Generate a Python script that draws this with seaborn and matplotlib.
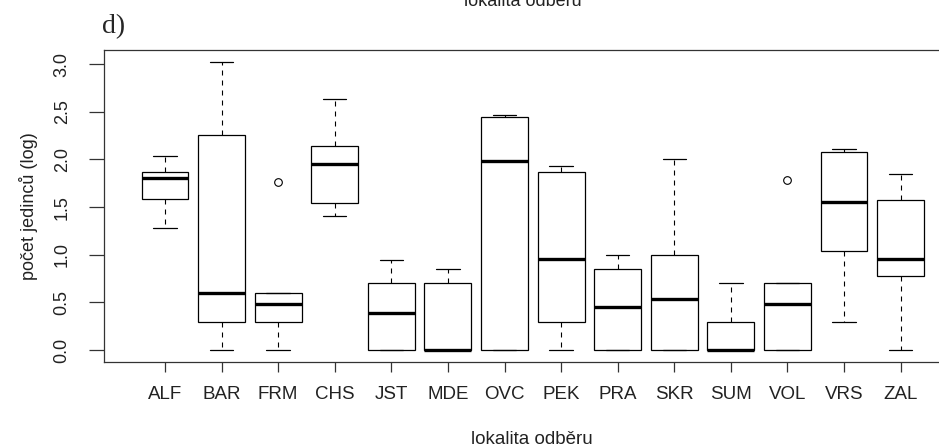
import numpy as np
import pandas as pd
import matplotlib
matplotlib.use("Agg")
import matplotlib.pyplot as plt
import seaborn as sns

# ---- data (log10 counts) ----
categories = ["ALF", "BAR", "FRM", "CHS", "JST", "MDE", "OVC",
              "PEK", "PRA", "SKR", "SUM", "VOL", "VRS", "ZAL"]
whisker_low = [1.28, 0.00, 0.00, 1.41, 0.00, 0.00, 0.00,
               0.00, 0.00, 0.00, 0.00, 0.00, 0.30, 0.00]
q1 =          [1.59, 0.30, 0.30, 1.54, 0.00, 0.00, 0.00,
               0.30, 0.00, 0.00, 0.00, 0.00, 1.04, 0.78]
median =      [1.81, 0.60, 0.48, 1.95, 0.39, 0.00, 1.98,
               0.96, 0.45, 0.54, 0.00, 0.48, 1.55, 0.96]
q3 =          [1.87, 2.26, 0.60, 2.14, 0.70, 0.70, 2.44,
               1.87, 0.85, 1.00, 0.30, 0.70, 2.08, 1.57]
whisker_high = [2.04, 3.02, 0.60, 2.63, 0.95, 0.85, 2.47,
                1.93, 1.00, 2.00, 0.70, 0.70, 2.11, 1.85]
outlier =     [None, None, 1.76, None, None, None, None,
               None, None, None, None, 1.78, None, None]

rows = []
for i, cat in enumerate(categories):
    top = outlier[i] if outlier[i] is not None else whisker_high[i]
    for v in (whisker_low[i], q1[i], median[i], q3[i], top):
        rows.append({"site": cat, "value": v})
df = pd.DataFrame(rows)

sns.set_style("ticks")
plt.rcParams["font.family"] = ["Liberation Sans", "DejaVu Sans"]

W, H = 939, 448
fig = plt.figure(figsize=(W / 100, H / 100), dpi=100)
ax = fig.add_axes([104 / W, (H - 362) / H, 856 / W, 312 / H])

sns.boxplot(
    data=df, x="site", y="value", order=categories, ax=ax,
    width=0.83, color="white", linecolor="black", linewidth=0.9,
    saturation=1, whis=1.5,
    medianprops=dict(linewidth=2.4, color="black", solid_capstyle="butt"),
    whiskerprops=dict(linestyle=(0, (4.5, 4.5)), linewidth=0.8),
    capprops=dict(linewidth=0.9),
    flierprops=dict(marker="o", markerfacecolor="none",
                    markeredgecolor="black", markeredgewidth=0.8,
                    markersize=5.5),
)

ax.set_xlim(-1.078, 14.05)
ax.set_ylim(-0.124, 3.147)

yt = np.arange(0, 3.01, 0.5)
ax.set_yticks(yt)
ax.set_yticklabels([f"{v:.1f}" for v in yt], rotation=90, va="center",
                   fontsize=13, color="#222222")
ax.tick_params(axis="y", length=11, width=0.9, pad=13, color="#333333")
ax.tick_params(axis="x", length=7.5, width=0.9, pad=10, color="#333333",
               labelsize=13.5, labelcolor="#222222")

for s in ax.spines.values():
    s.set_visible(True)
    s.set_linewidth(0.9)
    s.set_color("#333333")

ax.set_xlabel("lokalita odběru", fontsize=13.5, labelpad=20, color="#222222")
ax.set_ylabel("počet jedinců (log)", fontsize=13, labelpad=11,
              color="#222222")

fig.text(523 / W, 1 - 6.5 / H, "lokalita odběru", ha="center",
         va="baseline", fontsize=13, color="#222222")
fig.text(102 / W, 1 - 33 / H, "d)", ha="left", va="baseline",
         fontsize=20, family=["Liberation Serif", "DejaVu Serif"])

fig.savefig("out.png", dpi=100, facecolor="white")
